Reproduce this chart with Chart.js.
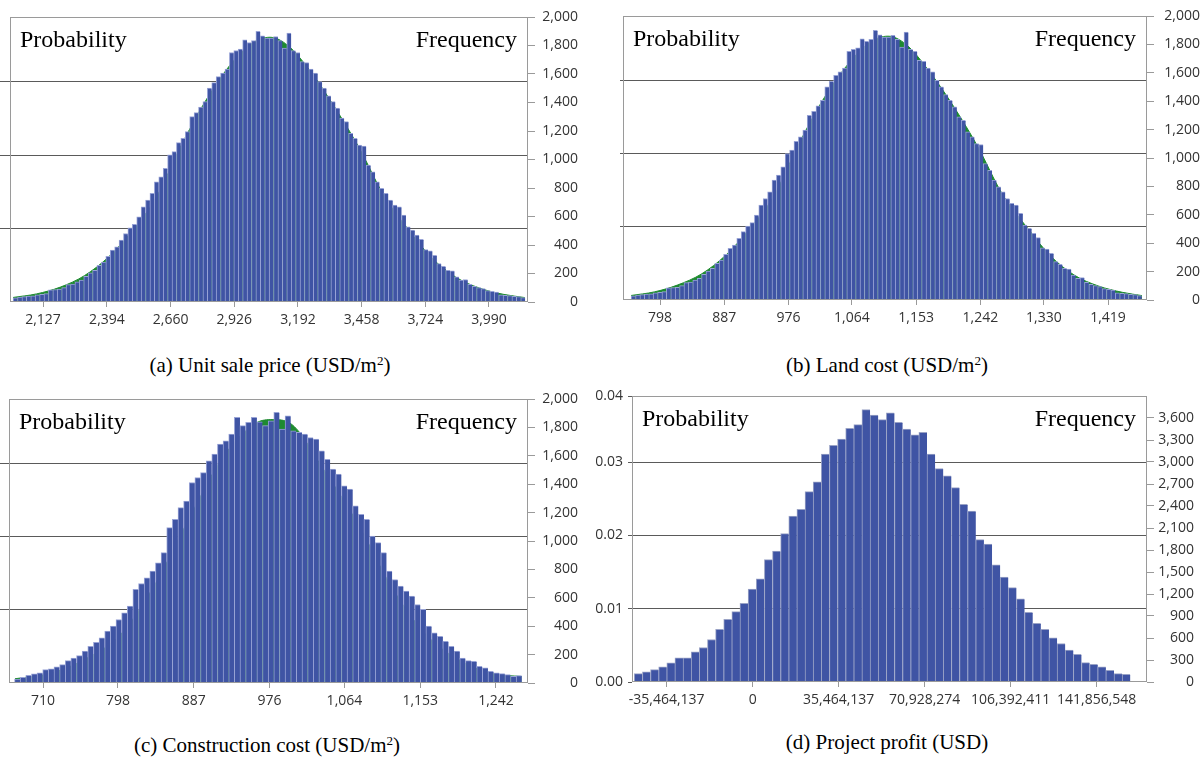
<!DOCTYPE html>
<html>
<head>
<meta charset="utf-8">
<script src="https://cdn.jsdelivr.net/npm/chart.js@4.4.1/dist/chart.umd.min.js"></script>
<style>
  body { margin: 0; background: #fff; }
  #page { position: relative; width: 1204px; height: 757px; overflow: hidden; background: #fff; }
  canvas { position: absolute; }
  .caption { position: absolute; transform: translate(-50%, -50%); white-space: nowrap;
             font-family: "Liberation Serif", "Times New Roman", serif; font-size: 21px; color: #000; }
  .sup { font-size: 0.62em; position: relative; top: -0.55em; }
</style>
</head>
<body>
<div id="page">
  <canvas id="salePrice" width="578" height="340" style="left:0;top:0"></canvas>
  <canvas id="landCost" width="596" height="340" style="left:604px;top:0"></canvas>
  <canvas id="construction" width="578" height="345" style="left:0;top:380px"></canvas>
  <canvas id="profit" width="609" height="345" style="left:585px;top:380px"></canvas>
  <div class="caption" style="left:270px;top:365px">(a) Unit sale price (USD/m<span class="sup">2</span>)</div>
  <div class="caption" style="left:887px;top:365px">(b) Land cost (USD/m<span class="sup">2</span>)</div>
  <div class="caption" style="left:267px;top:745px">(c) Construction cost (USD/m<span class="sup">2</span>)</div>
  <div class="caption" style="left:887px;top:742px">(d) Project profit (USD)</div>
</div>
<script>
// (a) unit sale price
const salePriceTicks = [2127, 2394, 2660, 2926, 3192, 3458, 3724, 3990];
const salePriceBinStart = 2002, salePriceBinWidth = 18.44;
const salePriceFreq = [
  30, 35, 38, 42, 44, 50, 54, 59, 85, 88,
  90, 101, 122, 126, 141, 153, 181, 204, 223, 258,
  281, 321, 364, 387, 434, 481, 520, 545, 598, 668,
  715, 762, 844, 879, 938, 1032, 1055, 1118, 1149, 1196,
  1301, 1329, 1367, 1406, 1501, 1540, 1582, 1606, 1634, 1751,
  1765, 1775, 1840, 1821, 1835, 1899, 1868, 1852, 1852, 1863,
  1835, 1782, 1887, 1765, 1751, 1688, 1681, 1634, 1606, 1547,
  1501, 1447, 1406, 1360, 1290, 1266, 1184, 1149, 1102, 1095,
  961, 914, 844, 797, 762, 715, 680, 668, 610, 527,
  504, 469, 439, 368, 359, 328, 270, 251, 223, 218,
  176, 153, 158, 124, 110, 101, 94, 80, 75, 70,
  50, 47, 45, 40, 38, 31
];
const salePriceFitX = [2002, 2100, 2200, 2300, 2400, 2500, 2600, 2700, 2800, 2900, 3000, 3075,
  3150, 3250, 3350, 3450, 3550, 3650, 3750, 3850, 3950, 4050, 4140];
const salePriceFitY = [32, 57, 105, 185, 315, 500, 735, 1085, 1395, 1645, 1815, 1858,
  1800, 1605, 1355, 1075, 750, 515, 312, 176, 98, 54, 31];

// (b) land cost
const landTicks = [798, 887, 976, 1064, 1153, 1242, 1330, 1419];
const landBinStart = 758, landBinWidth = 6.1;
const landFreq = [
  30, 35, 38, 42, 44, 50, 54, 59, 85, 88,
  90, 101, 122, 126, 141, 153, 181, 204, 223, 258,
  281, 321, 364, 387, 434, 481, 520, 545, 598, 668,
  715, 762, 844, 879, 938, 1032, 1055, 1118, 1149, 1196,
  1301, 1329, 1367, 1406, 1501, 1540, 1582, 1606, 1634, 1751,
  1765, 1775, 1840, 1821, 1835, 1899, 1868, 1852, 1852, 1863,
  1835, 1782, 1887, 1765, 1751, 1688, 1681, 1634, 1606, 1547,
  1501, 1447, 1406, 1360, 1290, 1266, 1184, 1149, 1102, 1095,
  961, 914, 844, 797, 762, 715, 680, 668, 610, 527,
  504, 469, 439, 368, 359, 328, 270, 251, 223, 218,
  176, 153, 158, 124, 110, 101, 94, 80, 75, 70,
  50, 47, 45, 40, 38, 31
];
const landFitX = [758, 790, 822, 856, 889, 922, 956, 989, 1022, 1056, 1089, 1114,
  1139, 1172, 1206, 1239, 1272, 1306, 1339, 1372, 1406, 1439, 1466];
const landFitY = [32, 57, 105, 185, 315, 500, 735, 1085, 1395, 1645, 1815, 1858,
  1800, 1605, 1355, 1075, 750, 515, 312, 176, 98, 54, 31];

// (c) construction cost
const constructionTicks = [710, 798, 887, 976, 1064, 1153, 1242];
const constructionBinStart = 676.5, constructionBinWidth = 6.62;
const constructionFreq = [
  28, 40, 54, 64, 71, 94, 99, 113, 129, 158,
  176, 193, 224, 259, 287, 318, 365, 400, 447, 494,
  541, 659, 701, 741, 788, 847, 918, 1094, 1153, 1235,
  1282, 1412, 1447, 1482, 1565, 1612, 1682, 1706, 1753, 1871,
  1812, 1835, 1871, 1840, 1812, 1847, 1906, 1788, 1882, 1776,
  1765, 1753, 1729, 1718, 1635, 1576, 1506, 1471, 1388, 1365,
  1247, 1188, 1153, 1035, 988, 918, 788, 729, 682, 647,
  612, 553, 518, 400, 353, 329, 294, 259, 224, 176,
  158, 153, 118, 106, 82, 71, 66, 59, 47, 52
];
const constructionFitX = [677, 720, 760, 800, 840, 880, 920, 960, 980, 1000, 1040, 1080,
  1120, 1160, 1200, 1240, 1272];
const constructionFitY = [30, 70, 170, 335, 680, 1140, 1580, 1830, 1855, 1830, 1500, 1120,
  670, 340, 158, 64, 46];

// (d) project profit
const profitTicks = [-35464137, 0, 35464137, 70928274, 106392411, 141856548];
const profitBinStart = -48830000, profitBinWidth = 3353000;
const profitFreq = [
  114, 137, 169, 206, 260, 329, 329, 411, 471, 580,
  717, 854, 959, 1074, 1266, 1407, 1668, 1786, 2024, 2262,
  2353, 2595, 2728, 3107, 3226, 3313, 3459, 3509, 3715, 3641,
  3578, 3669, 3541, 3450, 3372, 3404, 3107, 2910, 2810, 2650,
  2422, 2330, 1942, 1882, 1599, 1430, 1288, 1133, 950, 800,
  717, 603, 525, 434, 379, 265, 242, 206, 160, 114,
  105
];
const profitFreqTicks = [0, 300, 600, 900, 1200, 1500, 1800, 2100, 2400, 2700, 3000, 3300, 3600];
const profitProbTicks = [0, 0.01, 0.02, 0.03, 0.039];

const freqTicks2000 = [0, 200, 400, 600, 800, 1000, 1200, 1400, 1600, 1800, 2000];
const probGrid = [0.005, 0.010, 0.015];

const BLUE = '#3f54a4';
const GRID = '#5a5a5a';
const FRAME = '#9a9a9a';
const TICKFONT = { family: 'Open Sans', size: 14 };

const framePlugin = {
  id: 'frame',
  afterDraw(chart) {
    const { ctx, chartArea: a } = chart;
    ctx.save();
    ctx.strokeStyle = FRAME;
    ctx.lineWidth = 1;
    ctx.strokeRect(Math.round(a.left) + 0.5, Math.round(a.top) + 0.5,
      Math.round(a.right - a.left) - 1, Math.round(a.bottom - a.top) - 1);
    ctx.fillStyle = '#000';
    ctx.font = '24px "Liberation Serif"';
    ctx.textBaseline = 'alphabetic';
    ctx.textAlign = 'left';
    ctx.fillText('Probability', a.left + 10, a.top + 30);
    ctx.textAlign = 'right';
    ctx.fillText('Frequency', a.right - 11, a.top + 30);
    ctx.restore();
  }
};

function histogram(id, p) {
  const bars = p.freq.map((f, i) => ({ x: p.binStart + (i + 0.5) * p.binWidth, y: f }));
  const datasets = [{
    type: 'bar',
    data: bars,
    yAxisID: 'yF',
    backgroundColor: BLUE,
    borderColor: p.edge,
    borderWidth: { left: 1, top: 1, right: 0, bottom: 0 },
    borderSkipped: false,
    barPercentage: 1,
    categoryPercentage: 1,
    order: 1
  }];
  if (p.fitX) {
    datasets.push({
      type: 'line',
      data: p.fitX.map((x, i) => ({ x, y: p.fitY[i] })),
      yAxisID: 'yF',
      borderColor: '#1e8a30',
      backgroundColor: '#1e8a30',
      borderWidth: 1,
      fill: 'origin',
      pointRadius: 0,
      cubicInterpolationMode: 'monotone',
      order: 2
    });
  }
  new Chart(document.getElementById(id), {
    type: 'bar',
    data: { datasets },
    plugins: [framePlugin],
    options: {
      responsive: false,
      animation: false,
      layout: { padding: { top: p.padTop, left: 0, right: 0, bottom: 0 } },
      plugins: { legend: { display: false }, tooltip: { enabled: false } },
      scales: {
        x: {
          type: 'linear', min: p.xMin, max: p.xMax, offset: false,
          afterBuildTicks: s => { s.ticks = p.xTicks.map(v => ({ value: v })); },
          afterFit: s => { s.height = p.bottomH; },
          grid: { drawOnChartArea: false, tickLength: 5, color: FRAME, offset: false },
          border: { display: false },
          ticks: { font: TICKFONT, color: '#333', padding: 5, maxRotation: 0, autoSkip: false,
                   callback: v => v.toLocaleString('en-US') }
        },
        yP: {
          position: 'left', min: 0, max: p.probMax,
          afterBuildTicks: s => { s.ticks = p.probTicks.map(v => ({ value: v })); },
          afterFit: s => { s.width = p.leftW; },
          grid: {
            tickLength: p.probTickLen, tickColor: GRID,
            color: c => (c.tick && (c.tick.value === 0 || c.tick.value >= p.probMax)) ? 'rgba(0,0,0,0)' : GRID
          },
          border: { display: false },
          ticks: { display: p.showProb, font: TICKFONT, color: '#333', padding: 5,
                   callback: v => v.toFixed(2) }
        },
        yF: {
          position: 'right', min: 0, max: p.freqMax,
          afterBuildTicks: s => { s.ticks = p.freqTicks.map(v => ({ value: v })); },
          afterFit: s => { s.width = p.rightW; },
          grid: { drawOnChartArea: false, tickLength: 7, color: FRAME },
          border: { display: false },
          ticks: { font: TICKFONT, color: '#333', padding: 3, crossAlign: 'far',
                   callback: v => v.toLocaleString('en-US') }
        }
      }
    }
  });
}

histogram('salePrice', {
  freq: salePriceFreq, binStart: salePriceBinStart, binWidth: salePriceBinWidth,
  fitX: salePriceFitX, fitY: salePriceFitY, edge: '#98a3d6',
  xTicks: salePriceTicks, xMin: 1989, xMax: 4153,
  freqMax: 2000, freqTicks: freqTicks2000, probMax: 0.0194, probTicks: probGrid,
  showProb: false, probTickLen: 10, leftW: 10, rightW: 50, bottomH: 38, padTop: 17
});
histogram('landCost', {
  freq: landFreq, binStart: landBinStart, binWidth: landBinWidth,
  fitX: landFitX, fitY: landFitY, edge: '#98a3d6',
  xTicks: landTicks, xMin: 746.7, xMax: 1473,
  freqMax: 2000, freqTicks: freqTicks2000, probMax: 0.0194, probTicks: probGrid,
  showProb: false, probTickLen: 3, leftW: 19, rightW: 53, bottomH: 40, padTop: 16
});
histogram('construction', {
  freq: constructionFreq, binStart: constructionBinStart, binWidth: constructionBinWidth,
  fitX: constructionFitX, fitY: constructionFitY, edge: '#98a3d6',
  xTicks: constructionTicks, xMin: 670, xMax: 1279.6,
  freqMax: 2000, freqTicks: freqTicks2000, probMax: 0.0194, probTicks: probGrid,
  showProb: false, probTickLen: 9, leftW: 9, rightW: 50, bottomH: 42, padTop: 19
});
histogram('profit', {
  freq: profitFreq, binStart: profitBinStart, binWidth: profitBinWidth,
  edge: '#9aa3c6',
  xTicks: profitTicks, xMin: -49770000, xMax: 162600000,
  freqMax: 3900, freqTicks: profitFreqTicks, probMax: 0.039, probTicks: profitProbTicks,
  showProb: true, probTickLen: 4, leftW: 47, rightW: 47, bottomH: 43, padTop: 16
});
</script>
</body>
</html>
